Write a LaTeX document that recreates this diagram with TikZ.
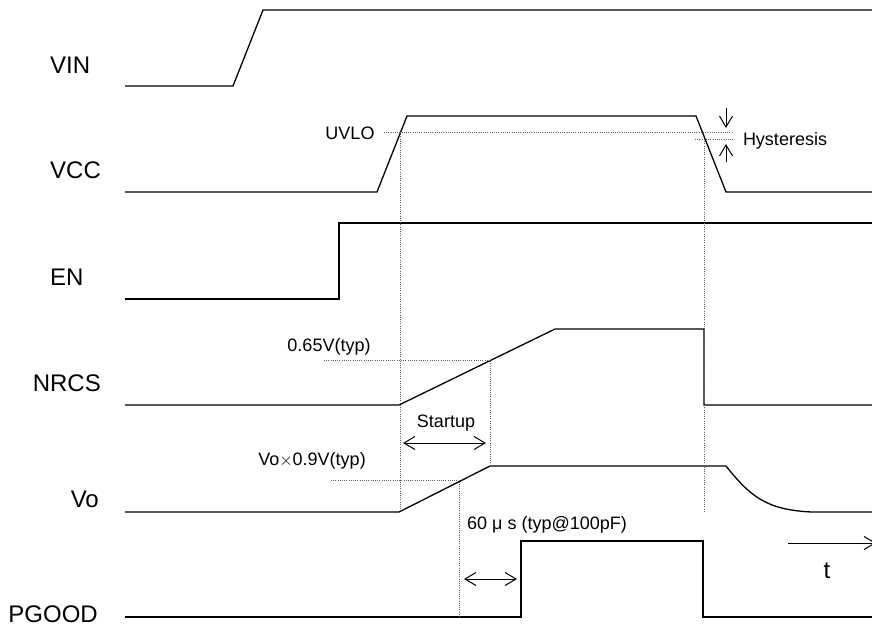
\documentclass[tikz,border=0pt]{standalone}
\usepackage{fontspec}
\setmainfont{Liberation Sans}
\usetikzlibrary{arrows.meta}

\tikzset{
	wave/.style={line width=1.3pt, line join=miter},
	guide/.style={gray!75!black, line width=0.9pt, dash pattern=on 1pt off 1.2pt},
	signame/.style={inner sep=0pt, font=\fontsize{24}{26}\selectfont},
	note/.style={inner sep=0pt, font=\fontsize{18}{20}\selectfont},
	marker/.style={line width=1pt},
}

\begin{document}
\begin{tikzpicture}[x=1pt, y=-1pt, >={Straight Barb[length=11pt,width=13pt]}]
	\useasboundingbox (0,0) rectangle (872,630);
	
	%signals
	\draw[wave] (125,86)  -- (233,86)  -- (263,10)  -- (872,10);		%VIN
	\draw[wave] (125,192) -- (377,192) -- (407,116) -- (696,116) -- (726,192) -- (872,192);	%VCC
	\draw[wave] (125,299) -- (339,299) -- (339,223) -- (872,223);		%EN
	\draw[wave] (125,405) -- (399,405) -- (555,329) -- (704,329) -- (704,405) -- (872,405);	%NRCS
	\draw[wave] (125,512) -- (399,512) -- (490,466) -- (726,466)
		.. controls (750,496) and (766,510) .. (812,512) -- (872,512);	%Vo
	\draw[wave] (125,617) -- (521,617) -- (521,541) -- (703,541) -- (703,617) -- (872,617);	%PGOOD
	
	%guides
	\draw[guide] (384,132) -- (732,132);			%UVLO
	\draw[guide] (695,139) -- (733,139);			%UVLO - hysteresis
	\draw[guide] (400,132) -- (400,512);
	\draw[guide] (704,139) -- (704,512);
	\draw[guide] (324,360) -- (490,360) -- (490,466);	%0.65V
	\draw[guide] (331,480) -- (459,480) -- (459,617);	%0.9Vo
	
	%arrow ends
	\coordinate (su1) at (403,443);
	\coordinate (su2) at (486,443);
	\coordinate (pg1) at (464,579);
	\coordinate (pg2) at (517,579);
	\coordinate (hy1) at (726,108);
	\coordinate (hy2) at (726,128);
	\coordinate (hy3) at (726,162);
	\coordinate (hy4) at (726,144);
	\coordinate (t1)  at (788,543);
	\coordinate (t2)  at (876,543);
	
	%arrows
	\draw[marker,<->] (su1) -- (su2);
	\draw[marker,<->] (pg1) -- (pg2);
	\draw[marker,->]  (hy1) -- (hy2);
	\draw[marker,->]  (hy3) -- (hy4);
	\draw[marker,->]  (t1) -- (t2);
	
	%labels
	\node[signame,anchor=west] (vin)   at (50,65)   {VIN};
	\node[signame,anchor=west] (vcc)   at (50,170)  {VCC};
	\node[signame,anchor=west] (en)    at (50,277)  {EN};
	\node[signame,anchor=east] (nrcs)  at (101,383) {NRCS};
	\node[signame,anchor=east] (vo)    at (99,499)  {Vo};
	\node[signame,anchor=east] (pgood) at (98,614)  {PGOOD};
	\node[signame] (tlab)  at (827,571) {t};
	\node[note] (uvlo)    at (350,133) {UVLO};
	\node[note] (hyst)    at (785,141) {Hysteresis};
	\node[note] (nrcsth)  at (329,347) {0.65V(typ)};
	\node[note] (voth)    at (312,461) {Vo$\times$0.9V(typ)};
	\node[note] (startup) at (446,423) {Startup};
	\node[note] (delay)   at (547,525) {60 μ s (typ@100pF)};
	
	%\draw[help lines,step=50] (0,0) grid (872,630);
\end{tikzpicture}
\end{document}
